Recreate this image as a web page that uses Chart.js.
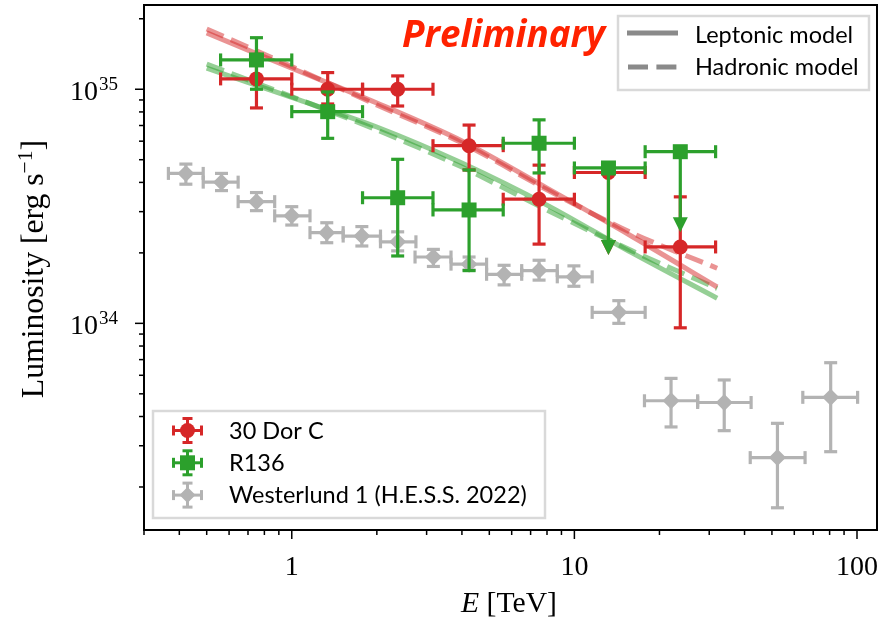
<!DOCTYPE html>
<html>
<head>
<meta charset="utf-8">
<script src="https://cdn.jsdelivr.net/npm/chart.js@4.4.0/dist/chart.umd.min.js"></script>
<style>
  html, body { margin: 0; padding: 0; background: #fff; }
  canvas { display: block; }
</style>
</head>
<body>
<canvas id="lumChart" width="883" height="624"></canvas>
<script>
// 30 Dor C: bin centre / edges in TeV, luminosity in erg/s
const dorE   = [0.75, 1.34, 2.37, 4.24, 7.5, 13.2, 23.7];
const dorElo = [0.56, 1.0, 1.78, 3.16, 5.6, 10.0, 17.8];
const dorEhi = [1.0, 1.78, 3.16, 5.6, 10.0, 17.8, 31.6];
const dorL   = [1.107e35, 1.0e35, 1.0e35, 5.74e34, 3.39e34, 4.41e34, 2.12e34];
const dorLlo = [8.32e34, 8.65e34, 8.48e34, 4.52e34, 2.18e34, 1.96e34, 9.57e33];
const dorLhi = [1.3e35, 1.178e35, 1.14e35, 7.03e34, 4.74e34, null, 3.47e34];
const dorUL  = [false, false, false, false, false, true, false];

// R136
const r136E   = [0.75, 1.34, 2.37, 4.24, 7.5, 13.2, 23.7];
const r136Elo = [0.56, 1.0, 1.78, 3.16, 5.6, 10.0, 17.8];
const r136Ehi = [1.0, 1.78, 3.16, 5.6, 10.0, 17.8, 31.6];
const r136L   = [1.334e35, 8.02e34, 3.44e34, 3.05e34, 5.88e34, 4.61e34, 5.41e34];
const r136Llo = [1.0e35, 6.17e34, 1.94e34, 1.68e34, 4.39e34, 1.96e34, 2.45e34];
const r136Lhi = [1.66e35, 9.74e34, 5.02e34, 4.52e34, 7.4e34, null, null];
const r136UL  = [false, false, false, false, false, true, true];

// Westerlund 1 (H.E.S.S. 2022)
const wd1E   = [0.422, 0.564, 0.75, 1.0, 1.33, 1.77, 2.37, 3.17, 4.24, 5.64, 7.5, 9.96, 14.36, 21.98, 33.9, 52.3, 80.7];
const wd1Elo = [0.366, 0.486, 0.646, 0.87, 1.16, 1.52, 2.06, 2.73, 3.66, 4.89, 6.51, 8.7, 11.56, 17.7, 27.3, 41.9, 64.3];
const wd1Ehi = [0.486, 0.646, 0.87, 1.16, 1.52, 2.06, 2.75, 3.66, 4.89, 6.51, 8.7, 11.56, 17.8, 27.3, 42.2, 65.5, 100.5];
const wd1L   = [4.37e34, 4.01e34, 3.31e34, 2.88e34, 2.44e34, 2.36e34, 2.23e34, 1.92e34, 1.79e34, 1.62e34, 1.68e34, 1.58e34, 1.114e34, 4.67e33, 4.59e33, 2.67e33, 4.83e33];
const wd1Llo = [3.93e34, 3.69e34, 3.03e34, 2.63e34, 2.21e34, 2.14e34, 2.04e34, 1.75e34, 1.69e34, 1.46e34, 1.53e34, 1.44e34, 1.0e34, 3.61e33, 3.48e33, 1.63e33, 2.83e33];
const wd1Lhi = [4.79e34, 4.37e34, 3.62e34, 3.15e34, 2.69e34, 2.59e34, 2.46e34, 2.07e34, 1.92e34, 1.77e34, 1.86e34, 1.76e34, 1.25e34, 5.82e33, 5.73e33, 3.74e33, 6.79e33];
const wd1UL  = wd1E.map(() => false);

// model curves
const modelE    = [0.5, 1, 2, 4, 8, 16, 32];
const lepRed    = [1.74e35, 1.23e35, 8.73e34, 6.01e34, 3.78e34, 2.35e34, 1.43e34];
const hadRed    = [1.81e35, 1.25e35, 8.57e34, 5.9e34, 3.72e34, 2.43e34, 1.72e34];
const lepGreen  = [1.23e35, 9.23e34, 6.9e34, 4.84e34, 3.2e34, 2.0e34, 1.28e34];
const hadGreen  = [1.28e35, 9.3e34, 6.7e34, 4.65e34, 3.05e34, 2.04e34, 1.41e34];

// axis ticks
const xTickLabels = [1, 10, 100];
const yTickExp    = [34, 35];

const SANS  = 'Lato, "Open Sans", "DejaVu Sans", sans-serif';
const SERIF = '"Liberation Serif", "DejaVu Serif", serif';
const RED = '#d62728', GREEN = '#2ca02c', GREY = '#b3b3b3';

const pts = (xs, ys) => xs.map((v, i) => ({ x: v, y: ys[i] }));

const errs = {
    dor:  { x: dorE,  lo: dorElo,  hi: dorEhi,  y: dorL,  ylo: dorLlo,  yhi: dorLhi,  ul: dorUL,  color: RED },
    r136: { x: r136E, lo: r136Elo, hi: r136Ehi, y: r136L, ylo: r136Llo, yhi: r136Lhi, ul: r136UL, color: GREEN },
    wd1:  { x: wd1E,  lo: wd1Elo,  hi: wd1Ehi,  y: wd1L,  ylo: wd1Llo,  yhi: wd1Lhi,  ul: wd1UL,  color: GREY },
};

function seg(ctx, x0, y0, x1, y1) {
    ctx.beginPath(); ctx.moveTo(x0, y0); ctx.lineTo(x1, y1); ctx.stroke();
}

// font size (px) so that text fills a given width
function fitSize(ctx, style, family, text, width) {
    ctx.font = style + ' 20px ' + family;
    return 20 * width / ctx.measureText(text).width;
}

// error bars drawn right before each dataset's markers
const errorBars = {
    id: 'errorBars',
    beforeDatasetDraw(chart, args) {
        const e = errs[chart.data.datasets[args.index].key];
        if (!e) return;
        const { ctx, scales: { x, y } } = chart;
        const cap = 6.5;
        ctx.save();
        ctx.strokeStyle = e.color; ctx.fillStyle = e.color; ctx.lineWidth = 3.2;
        e.x.forEach((xv, i) => {
            const px = x.getPixelForValue(xv), py = y.getPixelForValue(e.y[i]);
            const x0 = x.getPixelForValue(e.lo[i]), x1 = x.getPixelForValue(e.hi[i]);
            seg(ctx, x0, py, x1, py);
            seg(ctx, x0, py - cap, x0, py + cap);
            seg(ctx, x1, py - cap, x1, py + cap);
            const yb = y.getPixelForValue(e.ylo[i]);
            if (e.ul[i]) {
                seg(ctx, px, py, px, yb - 12);
                ctx.beginPath();
                ctx.moveTo(px - 7.5, yb - 15); ctx.lineTo(px + 7.5, yb - 15); ctx.lineTo(px, yb);
                ctx.closePath(); ctx.fill();
            } else {
                const yt = y.getPixelForValue(e.yhi[i]);
                seg(ctx, px, yt, px, yb);
                seg(ctx, px - cap, yt, px + cap, yt);
                seg(ctx, px - cap, yb, px + cap, yb);
            }
        });
        ctx.restore();
    }
};

function marker(ctx, style, cx, cy, color) {
    ctx.fillStyle = color;
    ctx.beginPath();
    if (style === 'circle') ctx.arc(cx, cy, 7.5, 0, Math.PI * 2);
    else if (style === 'rect') ctx.rect(cx - 7.5, cy - 7.5, 15, 15);
    else { ctx.moveTo(cx - 8, cy); ctx.lineTo(cx, cy - 8); ctx.lineTo(cx + 8, cy); ctx.lineTo(cx, cy + 8); ctx.closePath(); }
    ctx.fill();
}

const decorations = {
    id: 'decorations',
    afterDraw(chart) {
        const { ctx, chartArea: a, scales: { x, y } } = chart;
        ctx.save();

        // ticks (outward)
        ctx.strokeStyle = '#000'; ctx.lineWidth = 1.5;
        for (let d = -1; d <= 2; d++) for (let m = 1; m < 10; m++) {
            const v = m * Math.pow(10, d);
            if (v < x.min || v > x.max) continue;
            const px = x.getPixelForValue(v);
            seg(ctx, px, a.bottom, px, a.bottom + (m === 1 ? 9 : 5));
        }
        for (let d = 33; d <= 35; d++) for (let m = 1; m < 10; m++) {
            const v = m * Math.pow(10, d);
            if (v < y.min || v > y.max) continue;
            const py = y.getPixelForValue(v);
            seg(ctx, a.left, py, a.left - (m === 1 ? 9 : 5), py);
        }

        // frame
        ctx.lineWidth = 2;
        ctx.strokeRect(a.left, a.top, a.right - a.left, a.bottom - a.top);

        // tick labels
        ctx.fillStyle = '#000';
        ctx.font = '28px ' + SERIF;
        ctx.textAlign = 'center'; ctx.textBaseline = 'alphabetic';
        xTickLabels.forEach(v => ctx.fillText(String(v), x.getPixelForValue(v), a.bottom + 45));
        yTickExp.forEach(p => {
            const py = y.getPixelForValue(Math.pow(10, p));
            ctx.font = '19px ' + SERIF;
            const ws = ctx.measureText(String(p)).width;
            ctx.textAlign = 'right';
            ctx.fillText(String(p), a.left - 26, py + 1);
            ctx.font = '28px ' + SERIF;
            ctx.fillText('10', a.left - 26 - ws - 1, py + 11);
        });

        // axis titles
        ctx.textAlign = 'left';
        const fx = fitSize(ctx, '', SERIF, 'E [TeV]', 96).toFixed(1);
        ctx.font = 'italic ' + fx + 'px ' + SERIF;
        const wE = ctx.measureText('E').width;
        ctx.font = fx + 'px ' + SERIF;
        const wT = ctx.measureText(' [TeV]').width;
        const sx = 509 - (wE + wT) / 2;
        ctx.font = 'italic ' + fx + 'px ' + SERIF; ctx.fillText('E', sx, 612);
        ctx.font = fx + 'px ' + SERIF; ctx.fillText(' [TeV]', sx + wE, 612);

        ctx.save();
        ctx.translate(43, 269); ctx.rotate(-Math.PI / 2);
        const t1 = 'Luminosity [erg s', t3 = ']';
        const fy = fitSize(ctx, '', SERIF, t1 + '-1' + t3, 262);
        const big = fy.toFixed(1) + 'px ' + SERIF, small = (fy * 0.68).toFixed(1) + 'px ' + SERIF;
        ctx.font = big;
        const w1 = ctx.measureText(t1).width, w3 = ctx.measureText(t3).width;
        ctx.font = small;
        const w2 = ctx.measureText('\u22121').width;
        const tx = -(w1 + w2 + w3) / 2;
        ctx.font = big; ctx.fillText(t1, tx, 0);
        ctx.font = small; ctx.fillText('\u22121', tx + w1, -11);
        ctx.font = big; ctx.fillText(t3, tx + w1 + w2, 0);
        ctx.restore();

        // "Preliminary"
        ctx.fillStyle = '#ff2200';
        const fam = '"Open Sans", "Liberation Sans", sans-serif';
        ctx.font = 'italic bold ' + fitSize(ctx, 'italic bold', fam, 'Preliminary', 203).toFixed(1) + 'px ' + fam;
        ctx.fillText('Preliminary', 402, 47);

        // model legend
        ctx.fillStyle = 'rgba(255,255,255,0.85)';
        ctx.strokeStyle = '#d9d9d9'; ctx.lineWidth = 2.5;
        ctx.fillRect(618, 16, 251, 74); ctx.strokeRect(618, 16, 251, 74);
        ctx.strokeStyle = '#8a8a8a'; ctx.lineWidth = 5;
        seg(ctx, 627, 33, 678, 33);
        ctx.setLineDash([20, 8.4]); seg(ctx, 628, 67, 678, 67); ctx.setLineDash([]);
        ctx.fillStyle = '#000'; ctx.font = '23.5px ' + SANS;
        ctx.fillText('Leptonic model', 695, 43);
        ctx.fillText('Hadronic model', 695, 75);

        // data legend
        ctx.fillStyle = 'rgba(255,255,255,0.85)';
        ctx.strokeStyle = '#d9d9d9'; ctx.lineWidth = 2.5;
        ctx.fillRect(153, 411, 392, 107); ctx.strokeRect(153, 411, 392, 107);
        const rows = [['30 Dor C', RED, 'circle'], ['R136', GREEN, 'rect'], ['Westerlund 1 (H.E.S.S. 2022)', GREY, 'diamond']];
        rows.forEach(([txt, col, st], i) => {
            const cy = 430.5 + i * 32.3, cx = 187.5;
            ctx.strokeStyle = col; ctx.lineWidth = 3;
            seg(ctx, cx - 14, cy, cx + 14, cy);
            seg(ctx, cx - 14, cy - 5, cx - 14, cy + 5); seg(ctx, cx + 14, cy - 5, cx + 14, cy + 5);
            seg(ctx, cx, cy - 12, cx, cy + 12);
            seg(ctx, cx - 5, cy - 12, cx + 5, cy - 12); seg(ctx, cx - 5, cy + 12, cx + 5, cy + 12);
            marker(ctx, st, cx, cy, col);
            ctx.fillStyle = '#000'; ctx.font = '23.5px ' + SANS;
            ctx.fillText(txt, 229, cy + 8);
        });
        ctx.restore();
    }
};

const lineSet = (ys, color, dash, order) => ({
    data: pts(modelE, ys), showLine: true, pointRadius: 0, borderColor: color,
    borderWidth: 5, borderDash: dash, tension: 0.3, order: order, fill: false,
});

new Chart(document.getElementById('lumChart').getContext('2d'), {
    type: 'scatter',
    data: {
        datasets: [
            { key: 'r136', label: 'R136', data: pts(r136E, r136L), pointStyle: 'rect', pointRadius: 10.6,
              backgroundColor: GREEN, borderColor: GREEN, borderWidth: 0, order: 1 },
            { key: 'dor', label: '30 Dor C', data: pts(dorE, dorL), pointStyle: 'circle', pointRadius: 7.5,
              backgroundColor: RED, borderColor: RED, borderWidth: 0, order: 2 },
            { key: 'wd1', label: 'Westerlund 1 (H.E.S.S. 2022)', data: pts(wd1E, wd1L), pointStyle: 'rectRot', pointRadius: 8.5,
              backgroundColor: GREY, borderColor: GREY, borderWidth: 0, order: 3 },
            lineSet(lepRed, 'rgba(214,39,40,0.5)', [], 5),
            lineSet(hadRed, 'rgba(214,39,40,0.5)', [18.5, 8], 4),
            lineSet(lepGreen, 'rgba(44,160,44,0.5)', [], 7),
            lineSet(hadGreen, 'rgba(44,160,44,0.5)', [18.5, 8], 6),
        ],
    },
    options: {
        responsive: false,
        animation: false,
        devicePixelRatio: 1,
        layout: { autoPadding: false, padding: { left: 144, right: 6, top: 5, bottom: 94 } },
        plugins: { legend: { display: false }, tooltip: { enabled: false } },
        scales: {
            x: { type: 'logarithmic', min: 0.304, max: 117.7, display: false },
            y: { type: 'logarithmic', min: 1.31e33, max: 2.29e35, display: false },
        },
    },
    plugins: [errorBars, decorations],
});
</script>
</body>
</html>
